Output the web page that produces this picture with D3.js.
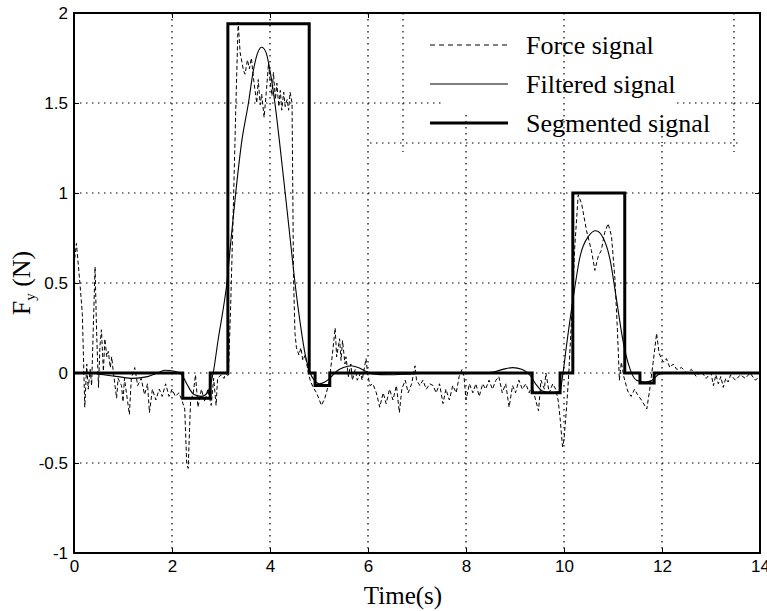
<!DOCTYPE html>
<html><head><meta charset="utf-8">
<script src="https://cdn.jsdelivr.net/npm/d3@7"></script>
<style>body{margin:0;background:#fff}svg{display:block}</style>
</head><body>
<svg id="c" width="767" height="611"></svg>
<script>
// ---- data ----
const forceT = [0,0.05,0.12,0.17,0.22,0.26,0.29,0.33,0.36,0.43,0.46,0.5,0.53,0.56,0.6,0.63,0.67,0.7,0.74,0.77,0.8,0.87,0.9,0.97,1.0,1.03,1.13,1.17,1.24,1.3,1.37,1.44,1.5,1.54,1.6,1.67,1.74,1.8,1.87,1.94,2.0,2.07,2.14,2.2,2.26,2.3,2.33,2.36,2.38,2.43,2.48,2.53,2.6,2.67,2.73,2.8,2.85,2.9,2.93,3.0,3.06,3.1,3.15,3.2,3.25,3.3,3.35,3.39,3.46,3.49,3.54,3.58,3.62,3.67,3.73,3.76,3.8,3.83,3.88,3.93,3.97,4.0,4.04,4.07,4.11,4.14,4.18,4.21,4.24,4.28,4.31,4.35,4.38,4.41,4.45,4.48,4.51,4.54,4.59,4.63,4.67,4.72,4.77,4.82,4.88,4.95,5.05,5.12,5.2,5.26,5.33,5.36,5.42,5.45,5.48,5.53,5.55,5.6,5.65,5.68,5.74,5.78,5.85,5.88,5.96,5.99,6.04,6.1,6.17,6.24,6.31,6.37,6.44,6.51,6.58,6.64,6.69,6.76,6.82,6.89,6.96,6.99,7.06,7.12,7.19,7.26,7.33,7.39,7.46,7.53,7.59,7.66,7.73,7.8,7.86,7.92,7.96,8.0,8.07,8.14,8.2,8.27,8.34,8.4,8.47,8.54,8.61,8.67,8.74,8.81,8.88,8.95,9.01,9.08,9.15,9.22,9.29,9.35,9.42,9.48,9.53,9.6,9.63,9.7,9.77,9.83,9.88,9.92,9.97,10.0,10.05,10.09,10.16,10.22,10.29,10.36,10.46,10.56,10.63,10.7,10.76,10.83,10.9,10.97,11.04,11.09,11.13,11.17,11.22,11.3,11.37,11.44,11.5,11.58,11.69,11.75,11.82,11.89,11.94,11.99,12.03,12.09,12.16,12.23,12.3,12.4,12.5,12.6,12.7,12.8,12.9,13.0,13.05,13.1,13.15,13.2,13.25,13.3,13.35,13.4,13.5,13.6,13.7,13.8,13.9,14.0];
const forceV = [0.6,0.72,0.5,0.33,-0.19,0.05,-0.09,0.02,-0.07,0.59,0.24,-0.08,0.15,0.24,0.01,0.19,0.09,0.12,0.03,0.09,0.01,-0.14,-0.03,-0.07,-0.16,-0.03,-0.23,-0.03,0.03,-0.07,-0.03,-0.12,-0.06,-0.22,-0.09,-0.15,-0.09,-0.13,-0.06,-0.13,-0.09,-0.13,-0.11,-0.15,-0.2,-0.5,-0.53,-0.3,-0.15,-0.12,-0.01,-0.19,-0.09,-0.16,-0.09,-0.18,-0.03,-0.18,-0.03,-0.01,-0.03,0.0,-0.02,0.4,0.9,1.45,1.95,1.78,1.68,1.66,1.74,1.69,1.75,1.62,1.5,1.63,1.49,1.55,1.42,1.58,1.72,1.63,1.54,1.67,1.52,1.61,1.48,1.57,1.46,1.56,1.48,1.52,1.46,1.56,1.5,0.53,0.22,0.14,0.1,0.14,0.07,0.1,0.02,-0.04,-0.08,-0.11,-0.18,-0.14,-0.06,0.07,0.25,0.09,0.19,0.07,0.18,0.05,0.09,-0.02,0.05,-0.04,0.02,-0.04,0.0,-0.04,0.08,0.0,-0.07,-0.06,-0.11,-0.19,-0.11,-0.17,-0.09,-0.15,-0.07,-0.22,-0.09,-0.04,-0.11,-0.06,0.04,-0.04,-0.07,-0.04,-0.09,-0.06,-0.07,-0.11,-0.06,-0.17,-0.09,-0.15,-0.07,-0.11,-0.02,0.02,-0.02,-0.15,-0.06,-0.11,-0.06,-0.13,-0.06,-0.09,-0.04,-0.09,-0.04,-0.02,-0.11,-0.06,-0.19,-0.07,-0.11,-0.04,-0.09,-0.06,-0.11,-0.07,-0.15,-0.21,-0.04,-0.09,0.0,-0.11,-0.06,-0.09,-0.15,-0.25,-0.41,-0.37,-0.2,-0.04,0.33,0.7,0.99,0.94,0.79,0.68,0.57,0.65,0.68,0.78,0.83,0.76,0.52,0.24,-0.04,0.06,-0.02,-0.1,-0.13,-0.09,-0.12,-0.15,-0.2,-0.09,0.06,0.22,0.11,0.08,0.06,0.08,0.03,0.05,0.02,0.03,0.0,0.02,-0.02,0.01,-0.03,0.0,-0.07,-0.01,-0.06,-0.02,-0.08,-0.03,-0.05,-0.01,-0.04,-0.01,-0.03,0.0,-0.04,-0.02];

const filteredT = [0,0.3,0.6,0.9,1.2,1.5,1.7,1.85,2.05,2.2,2.3,2.45,2.6,2.72,2.84,2.95,3.03,3.12,3.2,3.3,3.42,3.56,3.66,3.75,3.83,3.92,4.0,4.1,4.2,4.31,4.41,4.51,4.62,4.72,4.82,4.9,5.0,5.12,5.22,5.36,5.5,5.65,5.8,5.95,6.1,6.4,6.9,7.5,8.3,8.55,8.75,8.95,9.15,9.3,9.42,9.56,9.75,9.92,9.97,10.05,10.19,10.33,10.5,10.65,10.8,10.94,11.07,11.21,11.35,11.48,11.65,11.8,11.92,12.05,14];
const filteredV = [0,0.0,-0.01,-0.02,-0.03,-0.02,0.0,0.015,0.01,-0.01,-0.06,-0.12,-0.13,-0.11,0.0,0.2,0.33,0.5,0.73,1.0,1.28,1.5,1.68,1.78,1.81,1.78,1.68,1.5,1.27,1.0,0.75,0.5,0.27,0.1,0.0,-0.04,-0.06,-0.05,-0.03,0.01,0.03,0.04,0.03,0.01,-0.005,-0.01,-0.005,0.0,0.0,0.005,0.02,0.03,0.02,-0.01,-0.06,-0.1,-0.11,-0.1,-0.02,0.15,0.42,0.65,0.76,0.79,0.75,0.63,0.41,0.17,0.02,-0.04,-0.05,-0.04,-0.01,0.0,0];

const segmentedT = [0,2.22,2.22,2.78,2.78,3.14,3.14,4.8,4.8,4.92,4.92,5.22,5.22,9.35,9.35,9.92,9.92,10.18,10.18,11.24,11.24,11.55,11.55,11.84,11.84,14];
const segmentedV = [0,0,-0.14,-0.14,0,0,1.94,1.94,0,0,-0.07,-0.07,0,0,-0.11,-0.11,0,0,1.0,1.0,0,0,-0.055,-0.055,0,0];

const xTicks = [0,2,4,6,8,10,12,14];
const yTicks = [-1,-0.5,0,0.5,1,1.5,2];
const legendLabels = ["Force signal","Filtered signal","Segmented signal"];

// ---- drawing ----
const svg = d3.select("#c");
const L=74,R=760,T=13,B=553;
const x = d3.scaleLinear([0,14],[L,R]);
const y = d3.scaleLinear([-1,2],[B,T]);
const dot = "1.5,4.5";

const grid = svg.append("g").attr("stroke","#000").attr("stroke-width",1.2).attr("stroke-dasharray",dot);
grid.selectAll("line.v").data(xTicks.slice(1,-1)).join("line")
  .attr("x1",d=>x(d)).attr("x2",d=>x(d)).attr("y1",T).attr("y2",B);
grid.selectAll("line.h").data(yTicks.slice(1,-1)).join("line").attr("class","h")
  .attr("y1",d=>y(d)).attr("y2",d=>y(d)).attr("x1",L).attr("x2",R);

const fmt = d=>String(d);
const sans = "'Liberation Sans', Arial, sans-serif";
const gx = svg.append("g").attr("transform",`translate(0,${B})`)
  .call(d3.axisBottom(x).tickValues(xTicks).tickSize(-5).tickPadding(7).tickFormat(fmt));
const gy = svg.append("g").attr("transform",`translate(${L},0)`)
  .call(d3.axisLeft(y).tickValues(yTicks).tickSize(-5).tickPadding(6).tickFormat(fmt));
const gt = svg.append("g").attr("transform",`translate(0,${T})`)
  .call(d3.axisTop(x).tickValues(xTicks).tickSize(-5).tickFormat(""));
const gr = svg.append("g").attr("transform",`translate(${R},0)`)
  .call(d3.axisRight(y).tickValues(yTicks).tickSize(-5).tickFormat(""));
[gx,gy,gt,gr].forEach(g=>{
  g.select(".domain").remove();
  g.selectAll("line").attr("stroke","#000").attr("stroke-width",1);
  g.selectAll("text").attr("fill","#000").style("font-family",sans).style("font-size","17px");
});

const line = d3.line().x(d=>x(d[0])).y(d=>y(d[1]));
svg.append("clipPath").attr("id","pc").append("rect")
  .attr("x",L).attr("y",T).attr("width",R-L).attr("height",B-T);
const plot = svg.append("g").attr("clip-path","url(#pc)");

plot.append("path").datum(forceT.map((t,i)=>[t,forceV[i]]))
  .attr("d",line).attr("fill","none").attr("stroke","#000").attr("stroke-width",1)
  .attr("stroke-dasharray","4,2.5");
plot.append("path").datum(filteredT.map((t,i)=>[t,filteredV[i]]))
  .attr("d",d3.line().x(d=>x(d[0])).y(d=>y(d[1])).curve(d3.curveMonotoneX))
  .attr("fill","none").attr("stroke","#000").attr("stroke-width",1.1);
plot.append("path").datum(segmentedT.map((t,i)=>[t,segmentedV[i]]))
  .attr("d",line).attr("fill","none").attr("stroke","#000").attr("stroke-width",3)
  .attr("stroke-linejoin","miter");

// legend
const lg = svg.append("g");
const lx0=403, lx1=734, ly1=143;
lg.append("rect").attr("x",lx0).attr("y",T+1).attr("width",lx1-lx0).attr("height",ly1-T-1).attr("fill","#fff");
const lgrid = lg.append("g").attr("stroke","#000").attr("stroke-width",1.2).attr("stroke-dasharray",dot);
lgrid.append("line").attr("x1",x(10)).attr("x2",x(10)).attr("y1",T).attr("y2",ly1);
lgrid.append("line").attr("x1",x(8)).attr("x2",x(8)).attr("y1",115).attr("y2",ly1);
lgrid.append("line").attr("x1",x(12)).attr("x2",x(12)).attr("y1",130).attr("y2",ly1);
lgrid.append("line").attr("x1",lx0).attr("x2",442).attr("y1",y(1.5)).attr("y2",y(1.5));
lgrid.append("line").attr("x1",677).attr("x2",lx1).attr("y1",y(1.5)).attr("y2",y(1.5));
lgrid.append("line").attr("x1",lx0).attr("x2",lx0).attr("y1",T).attr("y2",152);
lgrid.append("line").attr("x1",lx1).attr("x2",lx1).attr("y1",T).attr("y2",152);
lgrid.append("line").attr("x1",370).attr("x2",742).attr("y1",ly1).attr("y2",ly1);

const serif="'Liberation Serif','Times New Roman',serif";
const rows=[45,84,123];
const styles=[{w:1,d:"5,4"},{w:1,d:null},{w:3,d:null}];
legendLabels.forEach((lab,i)=>{
  lg.append("line").attr("x1",430).attr("x2",508).attr("y1",rows[i]).attr("y2",rows[i])
    .attr("stroke","#000").attr("stroke-width",styles[i].w).attr("stroke-dasharray",styles[i].d);
  lg.append("text").attr("x",526).attr("y",rows[i]).attr("dy","0.33em").text(lab)
    .style("font-family",serif).style("font-size","26px");
});

// frame
svg.append("rect").attr("x",L).attr("y",T).attr("width",R-L).attr("height",B-T)
  .attr("fill","none").attr("stroke","#000").attr("stroke-width",2);

// axis labels
svg.append("text").attr("x",403).attr("y",604).attr("text-anchor","middle")
  .style("font-family",serif).style("font-size","25px").text("Time(s)");
const yl = svg.append("text").attr("transform","translate(30,283) rotate(-90)").attr("text-anchor","middle")
  .style("font-family",serif).style("font-size","26px");
yl.append("tspan").text("F");
yl.append("tspan").attr("dy",5).style("font-size","15px").text("y");
yl.append("tspan").attr("dy",-5).text(" (N)");
</script>
</body></html>
